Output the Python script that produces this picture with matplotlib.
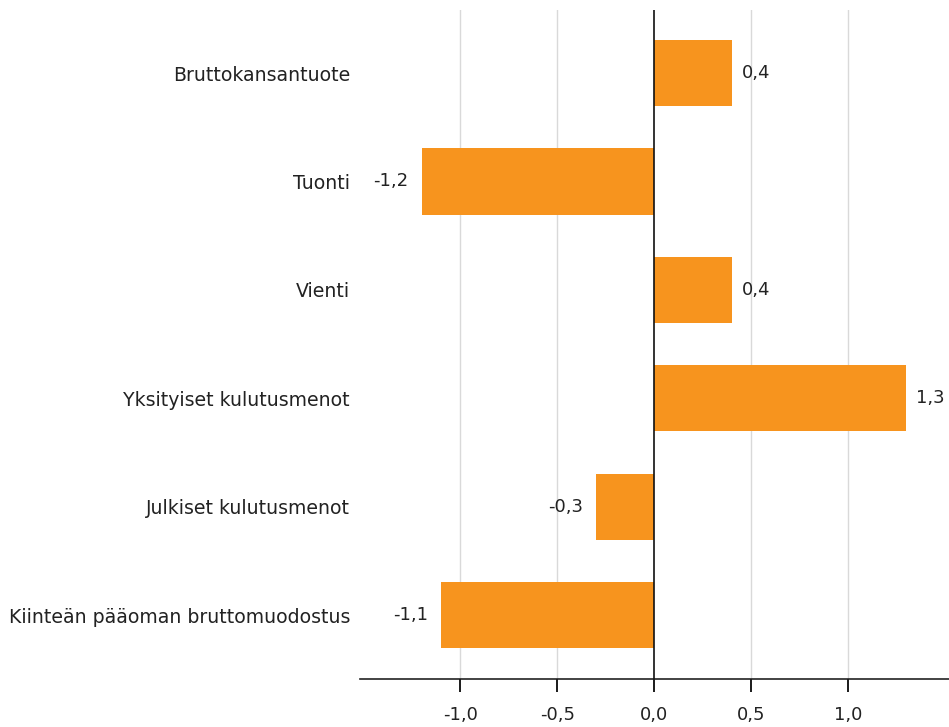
import matplotlib
matplotlib.use("Agg")
import matplotlib.pyplot as plt
import matplotlib.transforms as mtransforms

categories = ["Bruttokansantuote", "Tuonti", "Vienti", "Yksityiset kulutusmenot",
              "Julkiset kulutusmenot", "Kiinteän pääoman bruttomuodostus"]
values = [0.4, -1.2, 0.4, 1.3, -0.3, -1.1]
ticks = [-1.0, -0.5, 0.0, 0.5, 1.0]
tick_labels = ["-1,0", "-0,5", "0,0", "0,5", "1,0"]

plt.rcParams['font.family'] = ['DejaVu Sans']
FS = 13
fig = plt.figure(figsize=(9.49, 7.27), dpi=100)
ax = fig.add_axes([0.379, 0.066, 0.621, 0.920])

pos = list(range(len(categories)))
ax.barh(pos, values, height=0.61, color='#F7941E', zorder=3)
ax.set_ylim(len(categories) - 0.41, -0.58)
ax.set_xlim(-1.52, 1.52)

for p, v in zip(pos, values):
    lab = f"{v:.1f}".replace('.', ',')
    if v >= 0:
        ax.annotate(lab, (v, p), xytext=(7, 0), textcoords='offset points',
                    ha='left', va='center', fontsize=FS, color='#222222')
    else:
        ax.annotate(lab, (v, p), xytext=(-9.5, 0), textcoords='offset points',
                    ha='right', va='center', fontsize=FS, color='#222222')

ax.set_yticks(pos)
ax.set_yticklabels(categories, fontsize=13.6, color='#222222')
ax.tick_params(axis='y', left=False, length=0, pad=7)
ax.set_xticks(ticks)
ax.set_xticklabels(tick_labels, fontsize=FS, color='#222222')
ax.tick_params(axis='x', bottom=False, top=False, length=0, pad=19.5)

# tick marks below the axis line, at the tick values
trans = mtransforms.blended_transform_factory(ax.transData, ax.transAxes)
for t in ticks:
    ax.plot([t, t], [0, -0.019], transform=trans, color='#1a1a1a',
            lw=1.4, clip_on=False, zorder=5, solid_capstyle='butt')

for t in ticks:
    if t != 0:
        ax.axvline(t, color='#d9d9d9', lw=1, zorder=1)
ax.axvline(0, color='#111111', lw=1.2, zorder=4)

for s in ['top', 'right', 'left']:
    ax.spines[s].set_visible(False)
ax.spines['bottom'].set_color('#222222')
ax.spines['bottom'].set_linewidth(1.2)

fig.savefig("out.png", dpi=100)
